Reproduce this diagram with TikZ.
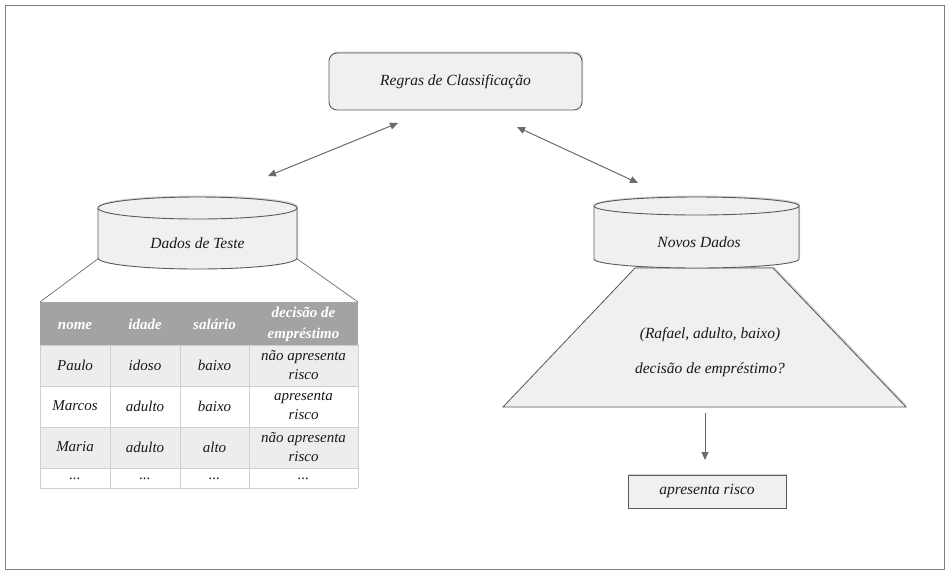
\documentclass[tikz,border=0pt]{standalone}
\usepackage{fontspec}
\setmainfont{Liberation Serif}
\usetikzlibrary{shadows,arrows.meta}
\definecolor{lfill}{HTML}{F0F0F0}
\definecolor{bord}{HTML}{5A5A5A}
\definecolor{arrc}{HTML}{6A6A6A}
\definecolor{hdr}{HTML}{A3A3A3}
\definecolor{rowg}{HTML}{EDEDED}
\definecolor{grid}{HTML}{CFCFCF}
\tikzset{
  txt/.style={font=\fontsize{15.5}{16}\selectfont\itshape, text=black!90, align=center, inner sep=0pt},
  ttxt/.style={font=\fontsize{15}{19.5}\selectfont\itshape, text=black!90, align=center, inner sep=0pt},
  htxt/.style={font=\fontsize{15}{21}\selectfont\bfseries\itshape, text=white, align=center, inner sep=0pt},
  boxshape/.style={draw=bord, fill=lfill, line width=0.9pt, drop shadow={shadow xshift=1pt, shadow yshift=1.5pt, opacity=0.35}},
  arr/.style={draw=arrc, line width=1pt, -{Triangle[length=8pt,width=7pt]}},
  darr/.style={draw=arrc, line width=1pt, {Triangle[length=8pt,width=7pt]}-{Triangle[length=8pt,width=7pt]}},
  link/.style={draw=arrc, line width=0.7pt},
  cellline/.style={draw=grid, line width=0.8pt}
}
\begin{document}
\begin{tikzpicture}[x=1pt,y=-1pt]
\useasboundingbox (0,0) rectangle (949,574);
\draw[draw=black!50, line width=1pt] (5,5) rectangle (944,569);

% rules box
\draw[boxshape, rounded corners=8pt] (329,53) rectangle (582,110);
\node[txt] (rules) at (455.5,82) {Regras de Classificação};

% left cylinder
\path[boxshape] (98,208) -- (98,258) arc[start angle=180,end angle=360,x radius=99.5pt,y radius=11pt] -- (297,208) arc[start angle=0,end angle=180,x radius=99.5pt,y radius=11pt] -- cycle;
\draw[draw=bord, line width=0.9pt] (98,208) arc[start angle=180,end angle=360,x radius=99.5pt,y radius=11pt];
\node[txt] (teste) at (197.5,243) {Dados de Teste};
\coordinate (tl) at (99,258);
\coordinate (tr) at (296,258);

% table
\fill[hdr] (40,302) rectangle (358,345);
\fill[rowg] (40,345) rectangle (358,386);
\fill[white] (40,386) rectangle (358,427);
\fill[rowg] (40,427) rectangle (358,468);
\fill[white] (40,468) rectangle (358,488);
\foreach \y in {345,386,427,468,488} \draw[cellline] (40,\y) -- (358,\y);
\foreach \x in {40,110,180,249,358} \draw[cellline] (\x,345) -- (\x,488);
\coordinate (ttl) at (40,302);
\coordinate (ttr) at (358,302);
\draw[link] (tl) -- (ttl);
\draw[link] (tr) -- (ttr);

\node[htxt, anchor=base] (h1) at (75,329) {nome};
\node[htxt, anchor=base] (h2) at (145,329) {idade};
\node[htxt, anchor=base] (h3) at (214.5,329) {salário};
\node[htxt] (h4) at (303.5,324) {decisão de\\empréstimo};

\node[ttxt] (c11) at (75,365) {Paulo};
\node[ttxt] (c12) at (145,365) {idoso};
\node[ttxt] (c13) at (214.5,365) {baixo};
\node[ttxt] (c14) at (303.5,365) {não apresenta\\risco};
\node[ttxt] (c21) at (75,406) {Marcos};
\node[ttxt] (c22) at (145,406) {adulto};
\node[ttxt] (c23) at (214.5,406) {baixo};
\node[ttxt] (c24) at (303.5,406) {apresenta\\risco};
\node[ttxt] (c31) at (75,447) {Maria};
\node[ttxt] (c32) at (145,447) {adulto};
\node[ttxt] (c33) at (214.5,447) {alto};
\node[ttxt] (c34) at (303.5,447) {não apresenta\\risco};
\node[ttxt] (c41) at (75,479) {...};
\node[ttxt] (c42) at (145,479) {...};
\node[ttxt] (c43) at (214.5,479) {...};
\node[ttxt] (c44) at (303.5,479) {...};

% trapezoid
\path[boxshape, line width=0.8pt] (635,268) -- (773,268) -- (906,407) -- (503,407) -- cycle;
\node[txt] (q1) at (710,335) {(Rafael, adulto, baixo)};
\node[txt] (q2) at (710,370) {decisão de empréstimo?};

% right cylinder
\path[boxshape] (594,206) -- (594,259) arc[start angle=180,end angle=360,x radius=102.5pt,y radius=9pt] -- (799,206) arc[start angle=0,end angle=180,x radius=102.5pt,y radius=9pt] -- cycle;
\draw[draw=bord, line width=0.9pt] (594,206) arc[start angle=180,end angle=360,x radius=102.5pt,y radius=9pt];
\node[txt] (novos) at (699,242) {Novos Dados};

% result box
\draw[boxshape] (628,475) rectangle (786,508);
\node[txt] (res) at (707,491.5) {apresenta risco};

% arrows
\coordinate (a1s) at (398,123);
\coordinate (a1e) at (268,176);
\coordinate (a2s) at (517,127);
\coordinate (a2e) at (638,183);
\draw[darr] (a1s) -- (a1e);
\draw[darr] (a2s) -- (a2e);
\coordinate (a3s) at (705,413);
\coordinate (a3e) at (705,460);
\draw[arr] (a3s) -- (a3e);
\end{tikzpicture}
\end{document}
